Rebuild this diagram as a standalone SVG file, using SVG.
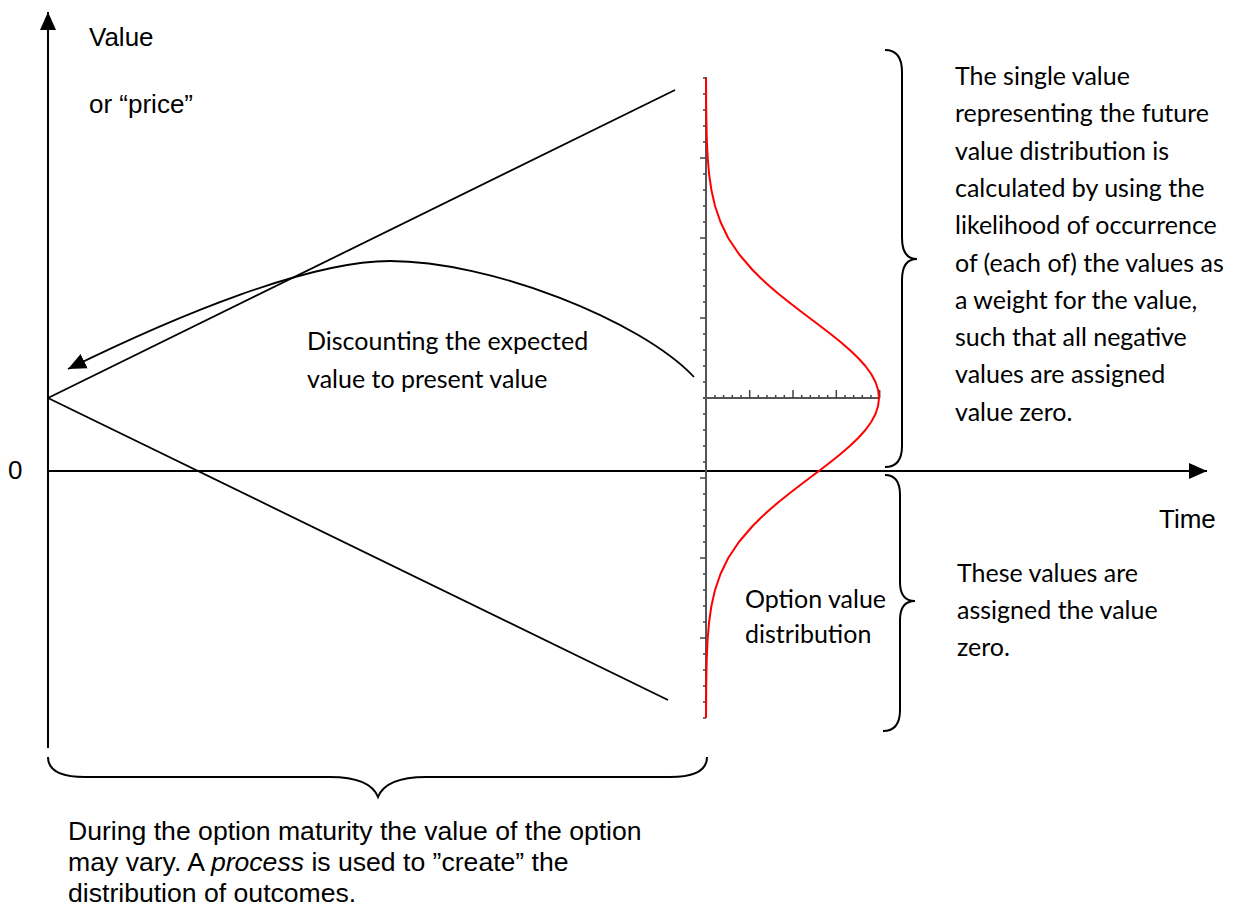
<svg xmlns="http://www.w3.org/2000/svg" width="1234" height="912" viewBox="0 0 1234 912">
<defs>
<style>
.ax{stroke:#000;stroke-width:2;fill:none}
.ln{stroke:#000;stroke-width:1.8;fill:none}
.br{stroke:#000;stroke-width:2;fill:none}
.dax{stroke:#555;stroke-width:2;fill:none}
.tk{stroke:#444;stroke-width:1.5}
.red{stroke:#ff0000;stroke-width:2;fill:none;stroke-linejoin:round}
.ar{font-family:"Liberation Sans",Arial,sans-serif;font-size:26px;fill:#000}
.arb{font-family:"Liberation Sans",Arial,sans-serif;font-size:26.6px;fill:#000}
.ca{font-family:Lato,"Open Sans",sans-serif;font-size:25px;fill:#000}
</style>
<marker id="ah" markerUnits="userSpaceOnUse" markerWidth="20" markerHeight="20" viewBox="0 0 20 20" refX="18" refY="10" orient="auto">
<path d="M0,2 L18,10 L0,18 Z" fill="#000"/>
</marker>
</defs>
<rect width="1234" height="912" fill="#fff"/>

<g id="connectors">
<line id="y-axis" class="ax" x1="48" y1="748" x2="48" y2="12" marker-end="url(#ah)"/>
<line id="x-axis" class="ax" x1="48" y1="471" x2="1207" y2="471" marker-end="url(#ah)"/>
<line id="upper-line" class="ln" x1="48" y1="398" x2="675" y2="90"/>
<line id="lower-line" class="ln" x1="48" y1="398" x2="668" y2="700"/>
<path id="discount-arrow" class="ln" d="M694,377 C640,320 490,261 390,261 C310,261 180,314 68,369" marker-end="url(#ah)"/>
</g>

<g id="distribution">
<line class="dax" x1="706" y1="77" x2="706" y2="718"/>
<line class="dax" x1="703" y1="398" x2="880" y2="398"/>
<path class="tk" d="M703,78h3M703,94h3M703,110h3M703,126h3M703,142h3M700,158h6M703,174h3M703,190h3M703,206h3M703,222h3M700,238h6M703,254h3M703,270h3M703,286h3M703,302h3M700,318h6M703,334h3M703,350h3M703,366h3M703,382h3M703,414h3M703,430h3M703,446h3M703,462h3M700,478h6M703,494h3M703,510h3M703,526h3M703,542h3M700,558h6M703,574h3M703,590h3M703,606h3M703,622h3M700,638h6M703,654h3M703,670h3M703,686h3M703,702h3M703,718h3"/>
<path class="tk" d="M715,398v-3M723.6,398v-3M732.3,398v-3M741,398v-3M749.7,398v-8M758.3,398v-3M767,398v-3M775.7,398v-3M784.3,398v-3M793,398v-8M801.7,398v-3M810.3,398v-3M819,398v-3M827.7,398v-3M836.3,398v-8M845,398v-3M853.7,398v-3M862.3,398v-3M871,398v-3M879.7,398v-8"/>
<polyline id="density" class="red" points="706,78 706.2,110 706.5,126 706.9,142 707.7,158 709.1,174 711.4,190 715,206 720.5,222 728.2,238 738.9,254 752.6,270 760.6,278 769.3,286 778.7,294 788.7,302 799,310 809.6,318 820.2,326 830.6,334 840.6,342 849.8,350 858.2,358 865.4,366 871.2,374 875.5,382 878.1,390 879,398 878.1,406 875.5,414 871.2,422 865.4,430 858.2,438 849.8,446 840.6,454 830.6,462 820.2,470 809.6,478 799,486 788.7,494 778.7,502 769.3,510 760.6,518 752.6,526 738.9,542 728.2,558 720.5,574 715,590 711.4,606 709.1,622 707.7,638 706.9,654 706.5,670 706.2,686 706,718"/>
</g>

<g id="braces">
<path id="brace-upper" class="br" d="M885,50 Q902,50 902,72 L902,238 Q902,259 917,259 Q902,259 902,280 L902,446 Q902,467 885,467"/>
<path id="brace-lower" class="br" d="M885,475 Q900,475 900,495 L900,582 Q900,601 915,601 Q900,601 900,620 L900,710 Q900,731 883,731"/>
<path id="brace-bottom" class="br" d="M48,757 Q48,777 85,777 L330,777 Q370,777 378,797 Q386,777 426,777 L670,777 Q707,777 707,757"/>
</g>

<g id="labels">
<text class="ar" x="89" y="46">Value</text>
<text class="ar" x="89" y="113">or “price”</text>
<text class="ar" x="8" y="479">0</text>
<text class="ar" x="1159" y="528">Time</text>
<text class="ca" x="307" y="350">Discounting the expected</text>
<text class="ca" x="307" y="388">value to present value</text>
<text class="ca" x="745" y="608">Option value</text>
<text class="ca" x="745" y="643">distribution</text>
<g id="note-upper">
<text class="ca" x="955" y="85">The single value</text>
<text class="ca" x="955" y="122.3">representing the future</text>
<text class="ca" x="955" y="159.6">value distribution is</text>
<text class="ca" x="955" y="196.9">calculated by using the</text>
<text class="ca" x="955" y="234.2">likelihood of occurrence</text>
<text class="ca" x="955" y="271.5">of (each of) the values as</text>
<text class="ca" x="955" y="308.8">a weight for the value,</text>
<text class="ca" x="955" y="346.1">such that all negative</text>
<text class="ca" x="955" y="383.4">values are assigned</text>
<text class="ca" x="955" y="420.7">value zero.</text>
</g>
<g id="note-lower">
<text class="ca" x="957" y="582">These values are</text>
<text class="ca" x="957" y="619">assigned the value</text>
<text class="ca" x="957" y="656">zero.</text>
</g>
<g id="note-bottom">
<text class="arb" x="68" y="840">During the option maturity the value of the option</text>
<text class="arb" x="68" y="871">may vary. A <tspan font-style="italic">process</tspan> is used to ”create” the</text>
<text class="arb" x="68" y="902">distribution of outcomes.</text>
</g>
</g>
</svg>
